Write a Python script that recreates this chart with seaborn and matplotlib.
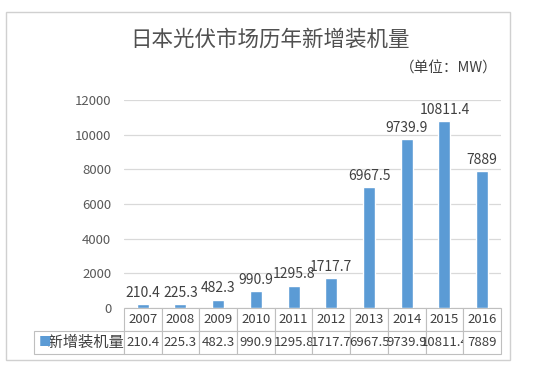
import matplotlib
matplotlib.use("Agg")
import matplotlib.pyplot as plt
import matplotlib.patches as patches
import seaborn as sns

YEARS = ["2007", "2008", "2009", "2010", "2011", "2012", "2013", "2014", "2015", "2016"]
VALUES = [210.4, 225.3, 482.3, 990.9, 1295.8, 1717.7, 6967.5, 9739.9, 10811.4, 7889]
LABELS = ["210.4", "225.3", "482.3", "990.9", "1295.8", "1717.7", "6967.5", "9739.9", "10811.4", "7889"]
Y_TICKS = [0, 2000, 4000, 6000, 8000, 10000, 12000]
SERIES = "新增装机量"
TITLE = "日本光伏市场历年新增装机量"
UNIT = "（单位：MW）"

BLUE = "#5B9BD5"
TEXT = "#404040"
GRID = "#d9d9d9"

sns.set_style("white")
plt.rcParams["font.family"] = ["Noto Sans CJK SC", "DejaVu Sans"]

fig = plt.figure(figsize=(5.53, 3.68), dpi=100)
ax = fig.add_axes([0.224, 0.163, 0.682, 0.565])

sns.barplot(x=YEARS, y=VALUES, color=BLUE, saturation=1, width=0.32, ax=ax)
ax.bar_label(ax.containers[0], labels=LABELS, padding=3, fontsize=10, color=TEXT)

ax.set_ylim(0, 12000)
ax.set_yticks(Y_TICKS)
ax.set_yticklabels([str(t) for t in Y_TICKS], fontsize=9.5, color="#595959")
ax.tick_params(axis="y", length=0, pad=9)
ax.set_xticks([])
ax.set_xlabel("")
ax.set_ylabel("")
ax.yaxis.grid(True, color=GRID, linewidth=0.9)
ax.set_axisbelow(True)
for s in ax.spines.values():
    s.set_visible(False)

# data table under the plot, Excel style
lab_w = 90 / 377
col_w = 37.7 / 377
h = 46 / 208
tbl = ax.table(cellText=[[""] + YEARS, ["    " + SERIES] + LABELS],
               colWidths=[lab_w] + [col_w] * len(YEARS),
               cellLoc="center", bbox=[-lab_w, -h, 1 + lab_w, h])
tbl.auto_set_font_size(False)
tbl.set_fontsize(9.5)
for (r, c), cell in tbl.get_celld().items():
    cell.set_edgecolor("#bfbfbf")
    cell.set_linewidth(0.8)
    cell.get_text().set_color(TEXT)
    if r == 1 and c == 0:
        cell.get_text().set_fontsize(11)
tbl[0, 0].visible_edges = ""
ax.text(-lab_w + 0.012, -h * 0.75, "■", transform=ax.transAxes, color=BLUE,
        fontsize=9, va="center", ha="left")

fig.text(0.488, 0.891, TITLE, ha="center", va="center", fontsize=15.5,
         fontweight="medium", color="#505050")
fig.text(0.899, 0.815, UNIT, ha="right", va="center", fontsize=10.5, color=TEXT)

fig.patches.append(patches.Rectangle((6 / 553, 1 - 360 / 368), 504 / 553, 348 / 368,
                                     transform=fig.transFigure, fill=False,
                                     edgecolor="#d0d0d0", linewidth=1))

fig.savefig("out.png", dpi=100, facecolor="white")
